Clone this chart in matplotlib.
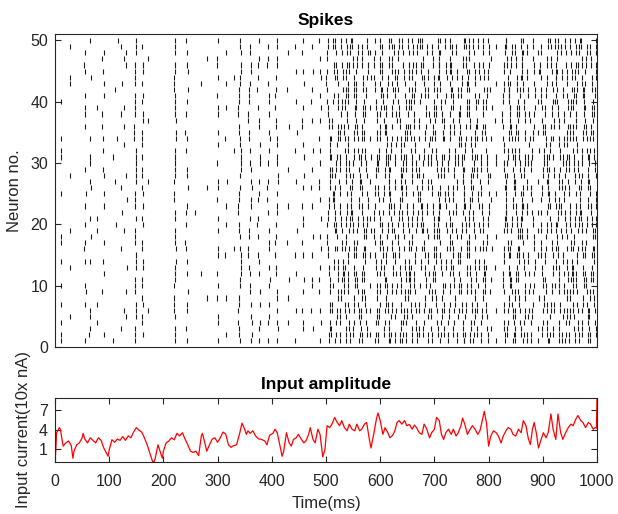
import matplotlib
matplotlib.use("Agg")
import matplotlib.pyplot as plt

plt.rcParams['font.family'] = ['Liberation Sans', 'DejaVu Sans']

# ---- spike raster
# each volley: time (ms) + one char per neuron, neuron 50 first, neuron 1 last
# '.' = no spike, 'a'..'i' = offset from volley time, -6..+6 ms (1.5 ms steps)
early_t = [11, 27, 55, 64, 77, 88, 112, 127, 149, 160, 172, 222, 243, 264, 280,
           300, 316, 331, 341, 360, 376, 394, 409, 430, 445, 457, 474, 489]
early_pat = [
    ".......... e.....e.ee .....e.... ..ee..e... e..e..e.ee",
    ".e....fe.. .......... ..e....... .e.....e.. .....e....",
    "..e.de...e .ee.e..... .e...f.e.. e..ed.e... ef.e.....e",
    "e.....f... ......e..e e..ef....e ..f...e... ....ee.ed.",
    ".......... .e........ .........e .e........ ...e..e...",
    "..fd.e.g.g ..d.d.e.e. .eg..f.g.. ...g..e.g. .d......g.",
    "h.......d. ......g..b ...d...... e......... .........b",
    ".bheh..c.. .eb.e..e.. ..h.b.i.c. .e..b..i.. .h..eh.b..",
    "eee.dddd.d ddd.ccc.ee eeee.ddd.e .ddd.eee.d dd.eee.ddd",
    ".e..ff.e.f e.ff.eee.e .ee.ef.f.e f..ee.ff.e e.ef.ee.f.",
    "...e...... ...e...... ...e...... .......... ....e.....",
    "eee.ddcccd eeef.ff.ee dddc.cc.de .eeef.feed c.cccd.dee",
    "d.e.ef..f. e.d..ce.d. .ee.f..ed. d..cd.e.e. .f.ee..d.e",
    ".......i.. .......... ........a. ........i. ..........",
    "...e...... .......... ....e..... .......... ..e.......",
    "e..dd.e..d .ee..f.e.. d..ee.d..e .f..ee..d. e.d..ef..e",
    "..e....e.. .e....d... ...f...e.. e....d.... ..e.....e.",
    "......e... ........e. .......... ....e..... ..........",
    "eef.ffeedd dcc.ddeeff gfe.eddcc. dde.effgfe e.ddc.cdde",
    ".ee.ff.edd d.cc.dd.e. ef.fg.ff.e .dd.cc.de. ee.f.fg.gf",
    "e..ed.d.c. .d.ee..f.g f..e.ed..d c.d..de.e. .f.f..ge.e",
    ".d.dc..d.e e.f..fg.f. d..dc.c.d. .e.ef..f.g f..e.ed..d",
    "ff.ee.d.dc .c.dd.ee.f f.gg.f.ee. d.dc.c.dd. .ee.f.fg.f",
    "..e.....d. ....f..... .e.....e.. ...d.....f ..e...e...",
    ".d...e.... e....f..d. ...e...... .f...d..e. ....e....d",
    "e.d..e.f.. .e.dd..e.f ..f.e..d.e e..d.e...f .e..d.ee..",
    ".e...f..e. d..e....f. .e..d..e.. ..f..e...e e...d..f..",
    "d..e.ef..e .f.e..d.e. e..dd.e..f ..e.f..e.d .d..e.f..e",
]

# column shapes seen in the dense part (after ~500 ms)
shapes = {
    "A": "ddcc.cbbc. cddee.ffgg .gfff.eedd c.ccdd.eef ff.gg.ffee",
    "B": "fgg.gff.ee dd..ccd.de eeff.g.ggf f.eed..dcc cc.dde.eff",
    "C": ".eeddc.cbb bc.cdde.ef .fggg.ff.e ed.dcc..cd de.effg.gf",
    "D": "ccd.deef.f gg..gffe.e ddc.cbb.cc dde.e.ffgg .ff.eed.dc",
    "E": "gff.ee.ddc c.bbc.cdd. eef.fgg.gf fe..edd.cc cd.de.eeff",
    "F": ".ddee.fff. gff.eed.dc c..cdd.eef fgg.gf.fee .dd.cc.cdd",
    "G": "eef.fgg.g. ffe.edd..c cc.bcc.dde ef.ff.gggf .ee.ddc.cc",
    "H": "cc.dd.eeff .gg.gff.ee d.dcc..bcc dd.eef.ffg g.ffe.edd.",
    "I": "ffg.ggf.ee .ddc.cc.dd eef..fgg.f fee.ddd.cc .cdde.eff.",
    "J": "d.dcc.cdd. eeff.gg..f fee.dd.dcc .ccd.deef. ggf.ffe.ed",
    "K": "ee.eff.fgg .gf.fee.dd cc..ccd.de e.fff.ggf. fe.eddc.cc",
    "L": ".cc.bbc.cd de.eff..gg gff.eed.d. cc.cdd.eef f.ggf.fee.",
    "M": "gg.ff.eedd .cc.ccdd.e ef.fgg.gf. eed.dcc..c dd.ee.fffg",
    "N": "de.eef.fg. gff.e.eddc .cbb.ccd.d ee.ffg.gg. ff.eed..dc",
    "S": "ee..ffg..f e..dd.c..c .dd..eef.. fg..g.ff.. e..dd..cc.",
    "T": ".cc..dd.ee ..fg..gf.e e..dd..cc. .cd..ee.f. gf..fe..dd",
    "u": "..e...f... .d....e..f ...e.....d .f...e.... e...d...e.",
    "v": "...e....d. .f....e... ..d...e... ....f....e .d.....e..",
    "w": ".e.....f.. ...d.....e e....f.... ..e....d.. ....e....f",
    "x": "..e..f.... d....e..f. ...d....e. .e...d.... ..f....e.d",
}
late_t = [505, 513, 520, 528, 536, 543, 551, 559, 567, 574, 582, 592, 599, 607,
          614, 621, 628, 636, 644, 651, 658, 666, 674, 681, 689, 697, 705, 712,
          720, 728, 735, 743, 751, 758, 766, 774, 781, 789, 797, 805, 813, 829,
          836, 843, 851, 858, 865, 873, 882, 892, 899, 907, 915, 922, 929, 937,
          944, 951, 958, 965, 973, 981, 989, 996]
late_shape = ("ASDGBEHCFI" "uJKLMNTADG" "BESHTFIJSK" "LTMNADSGBv"
              "wEHCFIJTKx" "LMNSATDGBE" "HCFI")

# ---- input current (10x nA)
in_t = [0, 1, 3, 5, 8, 10, 13, 15, 20, 25, 30, 33, 35, 40, 45, 50, 52, 55, 60, 65,
        70, 75, 80, 85, 90, 95, 98, 100, 105, 110, 115, 120, 125, 130, 135, 140,
        145, 150, 155, 160, 165, 170, 175, 180, 183, 185, 190, 195, 198, 200, 205,
        210, 215, 220, 225, 230, 235, 240, 245, 250, 255, 260, 265, 270, 272, 275,
        280, 285, 290, 295, 300, 305, 310, 315, 320, 325, 328, 335, 341, 345, 350,
        353, 356, 360, 365, 370, 375, 381, 387, 391, 396, 402, 406, 410, 414, 419,
        422, 427, 432, 436, 440, 445, 449, 454, 459, 463, 468, 471, 476, 480, 485,
        489, 494, 498, 502, 507, 511, 516, 520, 525, 529, 534, 539, 543, 548, 553,
        557, 562, 566, 571, 575, 580, 583, 588, 593, 596, 600, 605, 609, 614, 618,
        623, 627, 631, 635, 640, 645, 649, 654, 659, 663, 667, 672, 677, 681, 686,
        691, 695, 700, 704, 709, 713, 717, 721, 726, 731, 735, 740, 744, 749, 752,
        756, 761, 766, 770, 775, 780, 784, 789, 792, 796, 800, 804, 809, 814, 818,
        823, 827, 832, 836, 841, 845, 850, 855, 860, 864, 869, 873, 877, 881, 884,
        888, 892, 896, 901, 906, 910, 915, 919, 924, 928, 933, 937, 942, 947, 952,
        956, 961, 965, 970, 974, 979, 984, 988, 993, 997, 999, 1000]
in_v = [5.6, 0.0, 3.5, 3.8, 4.3, 4.0, 2.5, 1.4, 1.9, 2.2, 1.5, -0.5, 0.6, 1.6, 1.9,
        2.7, 3.4, 2.5, 1.9, 2.7, 2.3, 1.9, 2.7, 2.3, 1.1, 0.3, -0.2, 0.8, 2.4, 2.0,
        2.5, 2.3, 2.9, 2.3, 3.0, 2.7, 3.6, 4.3, 3.9, 3.6, 2.7, 1.6, 0.3, -1.0, -1.05,
        -0.5, 1.6, 0.3, -0.5, 0.6, 1.9, 2.2, 2.7, 2.4, 3.4, 3.0, 3.5, 2.5, 1.6, 0.6,
        0.4, 0.6, -0.1, 3.0, 3.4, 2.4, 0.6, 1.6, 2.5, 2.7, 2.0, 2.7, 3.6, 3.3, 1.6,
        1.2, 1.4, 1.6, 3.5, 5.0, 4.05, 3.25, 3.8, 3.4, 3.8, 3.0, 2.55, 2.45, 2.2, 1.6,
        3.1, 3.4, 4.05, 3.5, 1.9, -0.2, 0.6, 3.5, 1.9, 1.4, 2.45, 2.7, 3.25, 2.55,
        1.9, 2.2, 3.25, 4.3, 2.45, 1.9, 4.05, 3.25, -0.3, 0.84, 4.6, 4.3, 4.85, 5.9,
        5.2, 4.6, 5.4, 4.3, 3.8, 4.85, 4.05, 3.8, 4.85, 3.8, 4.05, 4.85, 5.1, 2.45,
        1.1, 3.25, 5.65, 6.6, 5.4, 3.25, 4.3, 3.5, 2.7, 3.1, 3.8, 5.1, 5.4, 4.85,
        5.4, 4.6, 4.8, 4.05, 4.7, 4.3, 3.5, 3.25, 4.85, 4.05, 2.7, 3.5, 4.05, 5.9,
        5.4, 3.25, 2.45, 3.5, 4.05, 3.25, 4.05, 2.98, 3.5, 4.6, 5.8, 4.85, 3.25,
        4.05, 4.6, 4.05, 3.25, 3.8, 5.65, 6.85, 5.1, 1.4, 2.98, 3.8, 3.5, 2.98, 1.9,
        2.98, 3.8, 4.3, 4.05, 3.25, 2.98, 4.05, 3.5, 5.4, 4.6, 2.7, 1.64, 4.05, 5.1,
        3.5, 1.1, 2.2, 3.5, 2.7, 3.5, 6.45, 4.05, 2.45, 6.45, 3.5, 2.45, 3.5, 4.3,
        4.85, 4.6, 5.65, 6.2, 5.4, 5.1, 4.3, 5.1, 4.85, 4.05, 4.3, 4.2, 8.9]

n_neurons = 50
offsets = "abcdefghi"
volley_t = early_t + late_t
volley_pat = early_pat + [shapes[k] for k in late_shape]
assert len(early_t) == len(early_pat) and len(late_t) == len(late_shape)
assert len(in_t) == len(in_v)

spk_t, spk_n = [], []
for i, (t0, pat) in enumerate(zip(volley_t, volley_pat)):
    s = pat.replace(" ", "")
    assert len(s) == n_neurons, (i, len(s))
    for k, c in enumerate(s):
        if c == ".":
            continue
        spk_t.append(t0 + (offsets.index(c) - 4) * 1.5)
        spk_n.append(n_neurons - k)

axcol = "#262626"
fig = plt.figure(figsize=(6.18, 5.14), dpi=100)
ax1 = fig.add_axes([55 / 618, (514 - 347) / 514, 542 / 618, 312.7 / 514])
ax2 = fig.add_axes([55 / 618, (514 - 461.7) / 514, 542 / 618, 63.4 / 514])

ax1.vlines(spk_t, [n - 0.42 for n in spk_n], [n + 0.42 for n in spk_n],
           color="#1a1a1a", lw=0.8)
ax1.set_xlim(0, 1000)
ax1.set_ylim(0, 51)
ax1.set_xticks([])
ax1.set_yticks([0, 10, 20, 30, 40, 50])
ax1.set_ylabel("Neuron no.", fontsize=12, color=axcol)
ax1.yaxis.set_label_coords(-0.06, 0.5)
ax1.set_title("Spikes", fontsize=12.5, fontweight="bold", pad=7)

ax2.plot(in_t, in_v, color="red", lw=0.9)
ax2.set_xlim(0, 1000)
ax2.set_ylim(-1.05, 8.9)
ax2.set_xticks(range(0, 1001, 100))
ax2.set_yticks([1, 4, 7])
ax2.set_xlabel("Time(ms)", fontsize=12, color=axcol, labelpad=5)
ax2.set_ylabel("Input current(10x nA)", fontsize=12, color=axcol)
ax2.yaxis.set_label_coords(-0.044, 0.5)
ax2.set_title("Input amplitude", fontsize=12.5, fontweight="bold", pad=7)

for ax in (ax1, ax2):
    for sp in ax.spines.values():
        sp.set_color(axcol)
        sp.set_linewidth(0.8)
    ax.tick_params(direction="in", length=4, width=0.8, colors=axcol,
                   labelsize=11.5, top=True, right=True, pad=5)
ax2.tick_params(axis="x", pad=9)

fig.savefig("out.png", dpi=100)
